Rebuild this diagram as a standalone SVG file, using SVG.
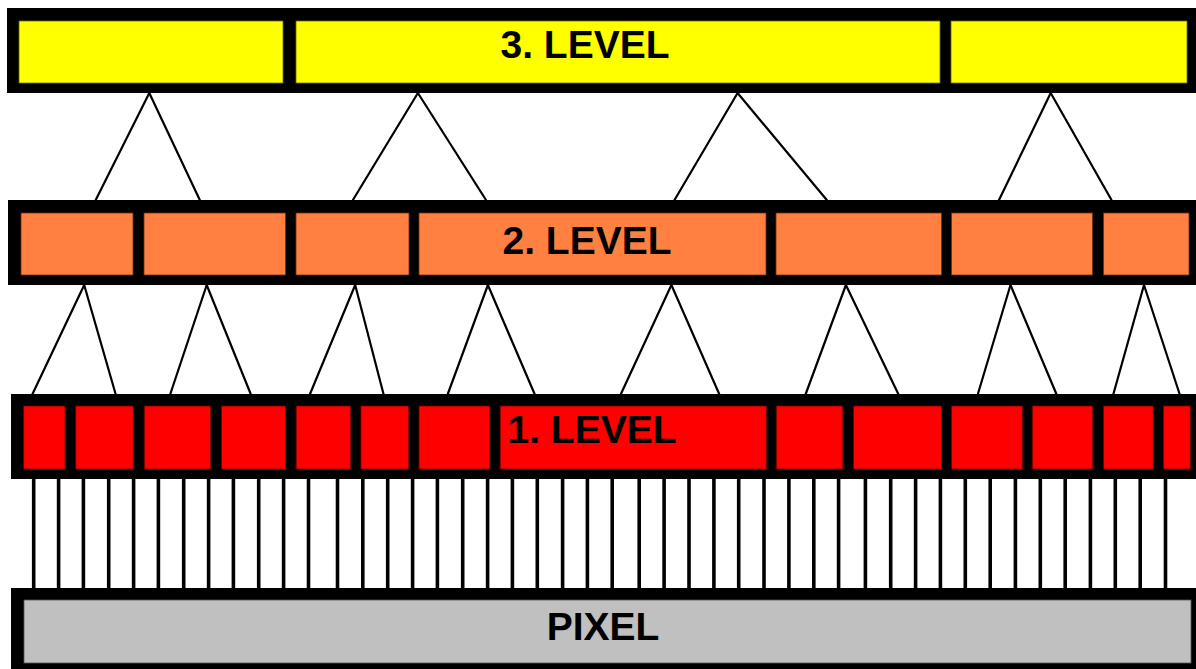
<svg xmlns="http://www.w3.org/2000/svg" width="1196" height="669" viewBox="0 0 1196 669">
<style>
.frame{fill:#000}
.y{fill:#FFFF00;stroke:#6b6b00;stroke-width:0.8}
.o{fill:#FF8040;stroke:#6b3010;stroke-width:0.8}
.r{fill:#FF0000;stroke:#700000;stroke-width:0.8}
.g{fill:#C0C0C0;stroke:#555;stroke-width:0.8}
.lbl{font-family:"Liberation Sans",Arial,sans-serif;font-weight:bold;font-size:39px;fill:#000;text-anchor:middle}
.conn line{stroke:#000;stroke-width:2.2;stroke-linecap:round}
.sep line{stroke:#000;stroke-width:3.6}
</style>
<rect width="1196" height="669" fill="#fff"/>
<g id="level3">
<rect class="frame" x="7" y="8" width="1189" height="85"/>
<rect class="y" x="19" y="21" width="264" height="62"/>
<rect class="y" x="296" y="21" width="644" height="62"/>
<rect class="y" x="951" y="21" width="236" height="62"/>
<text class="lbl" x="585" y="58">3. LEVEL</text>
</g>
<g id="level2">
<rect class="frame" x="8" y="200" width="1188" height="85"/>
<rect class="o" x="21" y="213" width="112" height="62"/>
<rect class="o" x="144" y="213" width="141.5" height="62"/>
<rect class="o" x="296" y="213" width="113" height="62"/>
<rect class="o" x="419" y="213" width="347" height="62"/>
<rect class="o" x="776" y="213" width="165.5" height="62"/>
<rect class="o" x="951.5" y="213" width="141" height="62"/>
<rect class="o" x="1103.5" y="213" width="85.5" height="62"/>
<text class="lbl" x="587" y="254">2. LEVEL</text>
</g>
<g id="level1">
<rect class="frame" x="11" y="394" width="1185" height="85"/>
<rect class="r" x="23.7" y="406" width="41.3" height="63"/>
<rect class="r" x="75.8" y="406" width="57.4" height="63"/>
<rect class="r" x="144.3" y="406" width="66.2" height="63"/>
<rect class="r" x="221.6" y="406" width="63.9" height="63"/>
<rect class="r" x="296.2" y="406" width="54.4" height="63"/>
<rect class="r" x="360.9" y="406" width="47.8" height="63"/>
<rect class="r" x="419" y="406" width="70.9" height="63"/>
<rect class="r" x="500.2" y="406" width="266.1" height="63"/>
<rect class="r" x="776.3" y="406" width="66.5" height="63"/>
<rect class="r" x="853.6" y="406" width="88" height="63"/>
<rect class="r" x="951.5" y="406" width="70.8" height="63"/>
<rect class="r" x="1032.3" y="406" width="60.4" height="63"/>
<rect class="r" x="1103.5" y="406" width="49.7" height="63"/>
<rect class="r" x="1163.5" y="406" width="26.8" height="63"/>
<text class="lbl" x="592" y="443">1. LEVEL</text>
</g>
<g id="pixel">
<rect class="frame" x="11" y="588" width="1185" height="81"/>
<rect class="g" x="24" y="600" width="1167" height="63"/>
<text class="lbl" x="603" y="640">PIXEL</text>
</g>
<g id="pixel-lines" class="sep">
<line x1="33.7" y1="479" x2="33.7" y2="588"/>
<line x1="58.6" y1="479" x2="58.6" y2="588"/>
<line x1="83.4" y1="479" x2="83.4" y2="588"/>
<line x1="108.7" y1="479" x2="108.7" y2="588"/>
<line x1="133.6" y1="479" x2="133.6" y2="588"/>
<line x1="158.4" y1="479" x2="158.4" y2="588"/>
<line x1="183.7" y1="479" x2="183.7" y2="588"/>
<line x1="208.6" y1="479" x2="208.6" y2="588"/>
<line x1="233.4" y1="479" x2="233.4" y2="588"/>
<line x1="258.7" y1="479" x2="258.7" y2="588"/>
<line x1="283.6" y1="479" x2="283.6" y2="588"/>
<line x1="308.5" y1="479" x2="308.5" y2="588"/>
<line x1="337.5" y1="479" x2="337.5" y2="588"/>
<line x1="362.8" y1="479" x2="362.8" y2="588"/>
<line x1="387.7" y1="479" x2="387.7" y2="588"/>
<line x1="412.6" y1="479" x2="412.6" y2="588"/>
<line x1="437.4" y1="479" x2="437.4" y2="588"/>
<line x1="462.7" y1="479" x2="462.7" y2="588"/>
<line x1="487.6" y1="479" x2="487.6" y2="588"/>
<line x1="512.4" y1="479" x2="512.4" y2="588"/>
<line x1="537.3" y1="479" x2="537.3" y2="588"/>
<line x1="562.6" y1="479" x2="562.6" y2="588"/>
<line x1="587.4" y1="479" x2="587.4" y2="588"/>
<line x1="612.2" y1="479" x2="612.2" y2="588"/>
<line x1="639.2" y1="479" x2="639.2" y2="588"/>
<line x1="664.1" y1="479" x2="664.1" y2="588"/>
<line x1="689" y1="479" x2="689" y2="588"/>
<line x1="713.9" y1="479" x2="713.9" y2="588"/>
<line x1="738.7" y1="479" x2="738.7" y2="588"/>
<line x1="764" y1="479" x2="764" y2="588"/>
<line x1="788.9" y1="479" x2="788.9" y2="588"/>
<line x1="813.8" y1="479" x2="813.8" y2="588"/>
<line x1="838.6" y1="479" x2="838.6" y2="588"/>
<line x1="865.4" y1="479" x2="865.4" y2="588"/>
<line x1="890.7" y1="479" x2="890.7" y2="588"/>
<line x1="915.6" y1="479" x2="915.6" y2="588"/>
<line x1="940.4" y1="479" x2="940.4" y2="588"/>
<line x1="965.3" y1="479" x2="965.3" y2="588"/>
<line x1="990.2" y1="479" x2="990.2" y2="588"/>
<line x1="1015.4" y1="479" x2="1015.4" y2="588"/>
<line x1="1040.3" y1="479" x2="1040.3" y2="588"/>
<line x1="1065.2" y1="479" x2="1065.2" y2="588"/>
<line x1="1090.4" y1="479" x2="1090.4" y2="588"/>
<line x1="1115.3" y1="479" x2="1115.3" y2="588"/>
<line x1="1140.2" y1="479" x2="1140.2" y2="588"/>
<line x1="1165.5" y1="479" x2="1165.5" y2="588"/>
</g>
<g id="connectors" class="conn">
<line x1="149.3" y1="93" x2="95.7" y2="200"/>
<line x1="149.3" y1="93" x2="199.8" y2="200"/>
<line x1="417.9" y1="93" x2="352.9" y2="200"/>
<line x1="417.9" y1="93" x2="486" y2="200"/>
<line x1="737.6" y1="93" x2="674.5" y2="200"/>
<line x1="737.6" y1="93" x2="826.8" y2="200"/>
<line x1="1050.7" y1="93" x2="999" y2="200"/>
<line x1="1050.7" y1="93" x2="1111.5" y2="200"/>
<line x1="84.2" y1="285" x2="32.5" y2="394"/>
<line x1="84.2" y1="285" x2="115.6" y2="394"/>
<line x1="206.7" y1="285" x2="170.3" y2="394"/>
<line x1="206.7" y1="285" x2="250.7" y2="394"/>
<line x1="355.2" y1="285" x2="310" y2="394"/>
<line x1="355.2" y1="285" x2="383.5" y2="394"/>
<line x1="487.9" y1="285" x2="447.8" y2="394"/>
<line x1="487.9" y1="285" x2="534.6" y2="394"/>
<line x1="671.4" y1="285" x2="620.9" y2="394"/>
<line x1="671.4" y1="285" x2="719.2" y2="394"/>
<line x1="845.9" y1="285" x2="805.7" y2="394"/>
<line x1="845.9" y1="285" x2="898.3" y2="394"/>
<line x1="1010.5" y1="285" x2="977.9" y2="394"/>
<line x1="1010.5" y1="285" x2="1056.4" y2="394"/>
<line x1="1144" y1="285" x2="1113.4" y2="394"/>
<line x1="1144" y1="285" x2="1179.6" y2="394"/>
</g>
</svg>
